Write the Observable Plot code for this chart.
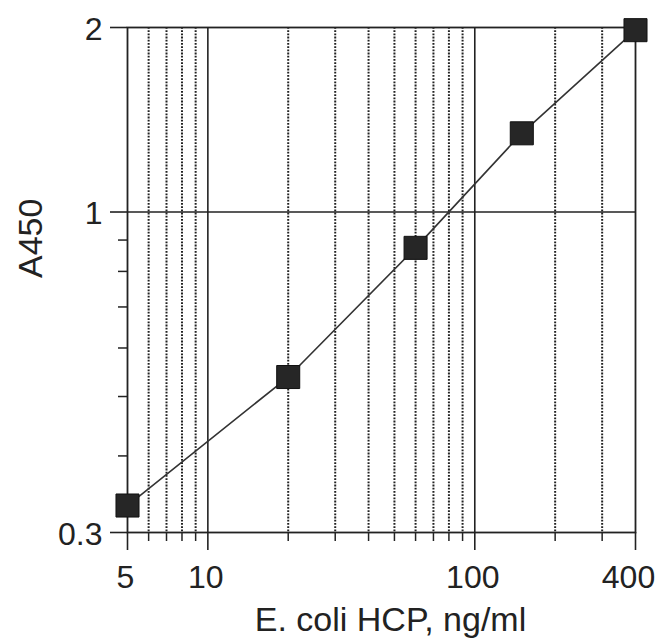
<!DOCTYPE html>
<html>
<head>
<meta charset="utf-8">
<script src="https://cdn.jsdelivr.net/npm/d3@7"></script>
<script src="https://cdn.jsdelivr.net/npm/@observablehq/plot@0.6"></script>
<style>
  html, body { margin: 0; padding: 0; background: #fff; }
  #chart { width: 659px; height: 639px; }
</style>
</head>
<body>
<div id="chart"></div>
<script>
// Data
const conc = [5, 20, 60, 150, 400];          // E. coli HCP, ng/ml
const a450 = [0.332, 0.538, 0.874, 1.344, 1.98]; // A450

const xTickLabels = [5, 10, 100, 400];
const yTickLabels = [0.3, 1, 2];
const xMinor = [6, 7, 8, 9, 20, 30, 40, 50, 60, 70, 80, 90, 200, 300];
const yMinor = [0.4, 0.5, 0.6, 0.7, 0.8, 0.9];
const xSolidGrid = [10, 100];
const ySolidGrid = [1];
const xTitle = "E. coli HCP, ng/ml";
const yTitle = "A450";

const points = conc.map((c, i) => ({conc: c, a450: a450[i]}));
const ink = "#222";
const font = "Liberation Sans, Arial, Helvetica, sans-serif";

const chart = Plot.plot({
  width: 659,
  height: 639,
  marginLeft: 127,
  marginRight: 24,
  marginTop: 27,
  marginBottom: 107,
  style: {fontFamily: font, background: "#fff", color: ink},
  x: {type: "log", domain: [5, 400]},
  y: {type: "log", domain: [0.3, 2]},
  marks: [
    // dotted minor grid
    Plot.ruleX(xMinor, {x: d => d, stroke: "#222", strokeWidth: 2, strokeDasharray: "1.8,1.4"}),
    // solid grid
    Plot.ruleX(xSolidGrid, {x: d => d, stroke: ink, strokeWidth: 1.6}),
    Plot.ruleY(ySolidGrid, {y: d => d, stroke: ink, strokeWidth: 1.6}),
    Plot.frame({stroke: ink, strokeWidth: 1.8}),
    // ticks
    Plot.axisX({ticks: xMinor, tickSize: 9, tickFormat: () => "", label: null, stroke: ink, strokeWidth: 1.5}),
    Plot.axisX({ticks: xTickLabels, tickSize: 18, tickFormat: () => "", label: null, stroke: ink, strokeWidth: 1.6}),
    Plot.axisY({ticks: yMinor, tickSize: 9, tickFormat: () => "", label: null, stroke: ink, strokeWidth: 1.5}),
    Plot.axisY({ticks: yTickLabels, tickSize: 17, tickFormat: () => "", label: null, stroke: ink, strokeWidth: 1.6}),
    // tick labels
    Plot.text(xTickLabels.filter(d => d !== 400), {x: d => d, text: d => String(d), frameAnchor: "bottom", dy: 45, dx: -2, lineAnchor: "middle", fontSize: 32, fill: ink}),
    Plot.text(xTickLabels.filter(d => d === 400), {x: d => d, text: d => String(d), frameAnchor: "bottom", dy: 45, dx: -7, lineAnchor: "middle", fontSize: 32, fill: ink}),
    Plot.text(yTickLabels, {y: d => d, text: d => String(d), frameAnchor: "left", textAnchor: "end", dx: -25, dy: 2, lineAnchor: "middle", fontSize: 32, fill: ink}),
    // data
    Plot.line(points, {x: "conc", y: "a450", stroke: "#333", strokeWidth: 1.6}),
    Plot.dot(points, {x: "conc", y: "a450", symbol: "square", r: 13, fill: "#262626", stroke: "#111", strokeWidth: 1}),
    // axis titles
    Plot.text([xTitle], {text: d => d, frameAnchor: "bottom", dy: 98, dx: 9, lineAnchor: "bottom", fontSize: 34, fill: ink}),
    Plot.text([yTitle], {text: d => d, frameAnchor: "left", rotate: -90, dx: -96, dy: -2, lineAnchor: "middle", fontSize: 34, fill: ink})
  ]
});
document.getElementById("chart").appendChild(chart);
</script>
</body>
</html>
